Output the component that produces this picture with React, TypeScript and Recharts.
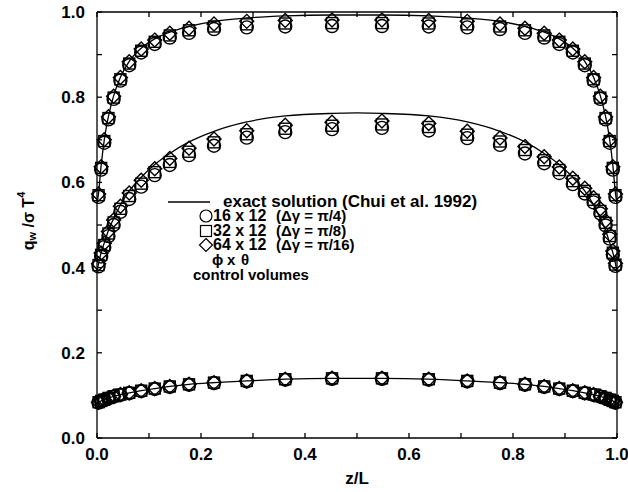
import React from 'react';
import { ComposedChart, Line, Scatter, XAxis, YAxis, Legend } from 'recharts';

const FONT = '"Liberation Sans", Arial, Helvetica, sans-serif';

// control-volume nodes along the wall (z/L)
const xNodes = [
  0.003, 0.008, 0.014, 0.022, 0.032, 0.045, 0.062, 0.085, 0.111, 0.14, 0.177, 0.225, 0.288, 0.362, 0.452,
  0.548, 0.638, 0.712, 0.775, 0.823, 0.86, 0.889, 0.915, 0.938, 0.955, 0.968, 0.978, 0.986, 0.992, 0.997,
];

// points of the exact solution curves
const lineX = [
  0, 0.003, 0.008, 0.014, 0.022, 0.032, 0.045, 0.062, 0.085, 0.111, 0.14, 0.177, 0.225, 0.288, 0.362, 0.452, 0.5,
  0.548, 0.638, 0.712, 0.775, 0.823, 0.86, 0.889, 0.915, 0.938, 0.955, 0.968, 0.978, 0.986, 0.992, 0.997, 1,
];

const topExact = [
  0.55, 0.575, 0.64, 0.7, 0.755, 0.803, 0.847, 0.884, 0.915, 0.937, 0.953, 0.966, 0.978, 0.986, 0.991, 0.993, 0.993,
  0.993, 0.991, 0.986, 0.978, 0.966, 0.953, 0.937, 0.915, 0.884, 0.847, 0.803, 0.755, 0.7, 0.64, 0.575, 0.55,
];
const midExact = [
  0.39, 0.41, 0.435, 0.458, 0.487, 0.515, 0.547, 0.58, 0.612, 0.642, 0.668, 0.695, 0.72, 0.742, 0.756, 0.762, 0.763,
  0.762, 0.756, 0.742, 0.72, 0.695, 0.668, 0.642, 0.612, 0.58, 0.547, 0.515, 0.487, 0.458, 0.435, 0.41, 0.39,
];
const botExact = [
  0.081, 0.084, 0.087, 0.09, 0.094, 0.098, 0.102, 0.106, 0.111, 0.116, 0.121, 0.126, 0.13, 0.134, 0.138, 0.14, 0.14,
  0.14, 0.138, 0.134, 0.13, 0.126, 0.121, 0.116, 0.111, 0.106, 0.102, 0.098, 0.094, 0.09, 0.087, 0.084, 0.081,
];

// 16 x 12 (circles)
const topCircle = [
  0.566, 0.63, 0.693, 0.748, 0.796, 0.839, 0.875, 0.905, 0.925, 0.94, 0.951, 0.96, 0.964, 0.966, 0.967,
  0.967, 0.966, 0.964, 0.96, 0.951, 0.94, 0.925, 0.905, 0.875, 0.839, 0.796, 0.748, 0.693, 0.63, 0.566,
];
const midCircle = [
  0.403, 0.426, 0.448, 0.474, 0.5, 0.531, 0.561, 0.59, 0.617, 0.641, 0.664, 0.686, 0.705, 0.718, 0.725,
  0.728, 0.722, 0.704, 0.688, 0.668, 0.645, 0.622, 0.596, 0.574, 0.553, 0.527, 0.499, 0.468, 0.43, 0.404,
];
const botCircle = [
  0.083, 0.086, 0.089, 0.093, 0.097, 0.101, 0.105, 0.11, 0.115, 0.12, 0.125, 0.129, 0.133, 0.137, 0.139,
  0.139, 0.137, 0.133, 0.129, 0.125, 0.12, 0.115, 0.11, 0.105, 0.101, 0.097, 0.093, 0.089, 0.086, 0.083,
];

// 32 x 12 (squares)
const topSquare = [
  0.57, 0.634, 0.697, 0.751, 0.799, 0.842, 0.879, 0.909, 0.93, 0.945, 0.957, 0.966, 0.971, 0.973, 0.974,
  0.974, 0.973, 0.971, 0.966, 0.957, 0.945, 0.93, 0.909, 0.879, 0.842, 0.799, 0.751, 0.697, 0.634, 0.57,
];
const midSquare = [
  0.406, 0.43, 0.453, 0.48, 0.506, 0.538, 0.568, 0.597, 0.624, 0.648, 0.672, 0.694, 0.713, 0.726, 0.733,
  0.736, 0.73, 0.712, 0.696, 0.676, 0.652, 0.629, 0.603, 0.58, 0.559, 0.533, 0.505, 0.474, 0.435, 0.407,
];
const botSquare = [
  0.084, 0.087, 0.09, 0.094, 0.098, 0.102, 0.106, 0.111, 0.116, 0.121, 0.126, 0.13, 0.134, 0.138, 0.14,
  0.14, 0.138, 0.134, 0.13, 0.126, 0.121, 0.116, 0.111, 0.106, 0.102, 0.098, 0.094, 0.09, 0.087, 0.084,
];

// 64 x 12 (diamonds)
const topDiamond = [
  0.573, 0.637, 0.7, 0.754, 0.802, 0.846, 0.883, 0.913, 0.934, 0.95, 0.962, 0.972, 0.978, 0.98, 0.981,
  0.981, 0.98, 0.978, 0.972, 0.962, 0.95, 0.934, 0.913, 0.883, 0.846, 0.802, 0.754, 0.7, 0.637, 0.573,
];
const midDiamond = [
  0.409, 0.434, 0.457, 0.485, 0.512, 0.544, 0.575, 0.605, 0.632, 0.656, 0.68, 0.702, 0.721, 0.734, 0.741,
  0.744, 0.738, 0.72, 0.704, 0.684, 0.66, 0.636, 0.61, 0.586, 0.564, 0.538, 0.51, 0.478, 0.439, 0.41,
];
const botDiamond = [
  0.084, 0.087, 0.09, 0.094, 0.098, 0.102, 0.106, 0.111, 0.116, 0.121, 0.126, 0.13, 0.134, 0.138, 0.14,
  0.14, 0.138, 0.134, 0.13, 0.126, 0.121, 0.116, 0.111, 0.106, 0.102, 0.098, 0.094, 0.09, 0.087, 0.084,
];

const ticks = [0, 0.1, 0.2, 0.3, 0.4, 0.5, 0.6, 0.7, 0.8, 0.9, 1.0];

// plot box in page pixels (same as chart margins + axis sizes below)
const BOX = { left: 97, right: 617, top: 12, bottom: 438 };

const toPoints = (xs: number[], ys: number[]) => xs.map((x, i) => ({ x, y: ys[i] }));
const majorLabel = (v: number) => (Math.round(v * 10) % 2 === 0 ? v.toFixed(1) : '');

const CircleMark = (p: any) => (
  <circle cx={p.cx} cy={p.cy} r={6.5} fill="none" stroke="#000" strokeWidth={1.4} />
);
const SquareMark = (p: any) => (
  <rect x={p.cx - 5.5} y={p.cy - 5.5} width={11} height={11} fill="none" stroke="#000" strokeWidth={1.4} />
);
const DiamondMark = (p: any) => (
  <path
    d={`M${p.cx},${p.cy - 7}L${p.cx + 7},${p.cy}L${p.cx},${p.cy + 7}L${p.cx - 7},${p.cy}Z`}
    fill="none"
    stroke="#000"
    strokeWidth={1.4}
  />
);

const tickStyle = { fill: '#000', fontSize: 17, fontWeight: 700, fontFamily: FONT };

const row = (left: number, y: number, size: number, text: string) => (
  <span style={{ position: 'absolute', left, top: y - 7, height: 14, lineHeight: '14px', fontSize: size, whiteSpace: 'nowrap' }}>
    {text}
  </span>
);

// top / right frame with inward ticks
const Frame = () => {
  const w = BOX.right - BOX.left;
  const h = BOX.bottom - BOX.top;
  return (
    <g stroke="#000" strokeWidth={1.3}>
      <line x1={BOX.left} y1={BOX.top} x2={BOX.right} y2={BOX.top} />
      <line x1={BOX.right} y1={BOX.top} x2={BOX.right} y2={BOX.bottom} />
      {ticks.map((t) => (
        <line key={'t' + t} x1={BOX.left + t * w} x2={BOX.left + t * w} y1={BOX.top} y2={BOX.top + 5} />
      ))}
      {ticks.map((t) => (
        <line key={'r' + t} x1={BOX.right} x2={BOX.right - 5} y1={BOX.bottom - t * h} y2={BOX.bottom - t * h} />
      ))}
    </g>
  );
};

const LegendBox = () => (
  <div style={{ position: 'relative', width: 628, height: 492, fontFamily: FONT, fontWeight: 700, color: '#000' }}>
    <svg style={{ position: 'absolute', left: 0, top: 0 }} width={628} height={492}>
      <Frame />
      <line x1={168} y1={202} x2={210} y2={202} stroke="#000" strokeWidth={1.3} />
      <circle cx={206} cy={216} r={6} fill="none" stroke="#000" strokeWidth={1.2} />
      <rect x={200.5} y={225.5} width={11} height={11} fill="none" stroke="#000" strokeWidth={1.2} />
      <path d="M206,238.5L212.5,245L206,251.5L199.5,245Z" fill="none" stroke="#000" strokeWidth={1.2} />
    </svg>
    {row(223, 202, 17, 'exact solution (Chui et al. 1992)')}
    {row(213, 216, 16, '16 x 12')}
    {row(276, 216, 15, '(Δγ = π/4)')}
    {row(213, 231, 16, '32 x 12')}
    {row(276, 231, 15, '(Δγ = π/8)')}
    {row(213, 245, 16, '64 x 12')}
    {row(276, 245, 15, '(Δγ = π/16)')}
    {row(212, 260, 15, 'ϕ')}
    {row(227, 260, 15, 'x')}
    {row(241, 260, 15, 'θ')}
    {row(193, 275, 15, 'control volumes')}
  </div>
);

const YTitle = () => (
  <text
    transform="translate(28,221) rotate(-90)"
    textAnchor="middle"
    dominantBaseline="central"
    fill="#000"
    fontSize={16}
    fontWeight={700}
    fontFamily={FONT}
  >
    q<tspan fontSize={11} dy={4}>w</tspan>
    <tspan dy={-4}> /σ T</tspan>
    <tspan fontSize={11} dy={-7}>4</tspan>
  </text>
);

export default function App() {
  const series = [
    { pts: [topCircle, midCircle, botCircle], shape: CircleMark },
    { pts: [topSquare, midSquare, botSquare], shape: SquareMark },
    { pts: [topDiamond, midDiamond, botDiamond], shape: DiamondMark },
  ];
  return (
    <div style={{ position: 'absolute', left: 0, top: 0, background: '#fff' }}>
      <ComposedChart width={628} height={492} margin={{ top: 12, right: 11, bottom: 0, left: 0 }}>
        <XAxis
          dataKey="x"
          type="number"
          domain={[0, 1]}
          ticks={ticks}
          interval={0}
          tickFormatter={majorLabel}
          tickSize={-5}
          tickMargin={15}
          height={54}
          stroke="#000"
          strokeWidth={1.3}
          tick={tickStyle}
          label={{ value: 'z/L', position: 'insideBottom', offset: 8, fill: '#000', fontSize: 17, fontWeight: 700, fontFamily: FONT }}
        />
        <YAxis
          dataKey="y"
          type="number"
          domain={[0, 1]}
          ticks={ticks}
          interval={0}
          tickFormatter={majorLabel}
          tickSize={-5}
          tickMargin={17}
          width={97}
          stroke="#000"
          strokeWidth={1.3}
          tick={tickStyle}
          label={{ content: () => <YTitle /> }}
        />
        {[topExact, midExact, botExact].map((ys, i) => (
          <Line
            key={'exact' + i}
            data={toPoints(lineX, ys)}
            dataKey="y"
            type="monotone"
            stroke="#000"
            strokeWidth={1.3}
            dot={false}
            legendType="none"
            isAnimationActive={false}
          />
        ))}
        {series.map((s, si) =>
          s.pts.map((ys, i) => (
            <Scatter
              key={'s' + si + '-' + i}
              data={toPoints(xNodes, ys)}
              dataKey="y"
              shape={s.shape}
              legendType="none"
              isAnimationActive={false}
            />
          ))
        )}
        <Legend
          layout="horizontal"
          verticalAlign="middle"
          align="center"
          content={() => <LegendBox />}
          wrapperStyle={{ left: 0, top: 0, width: 628, height: 492, pointerEvents: 'none' }}
        />
      </ComposedChart>
    </div>
  );
}
